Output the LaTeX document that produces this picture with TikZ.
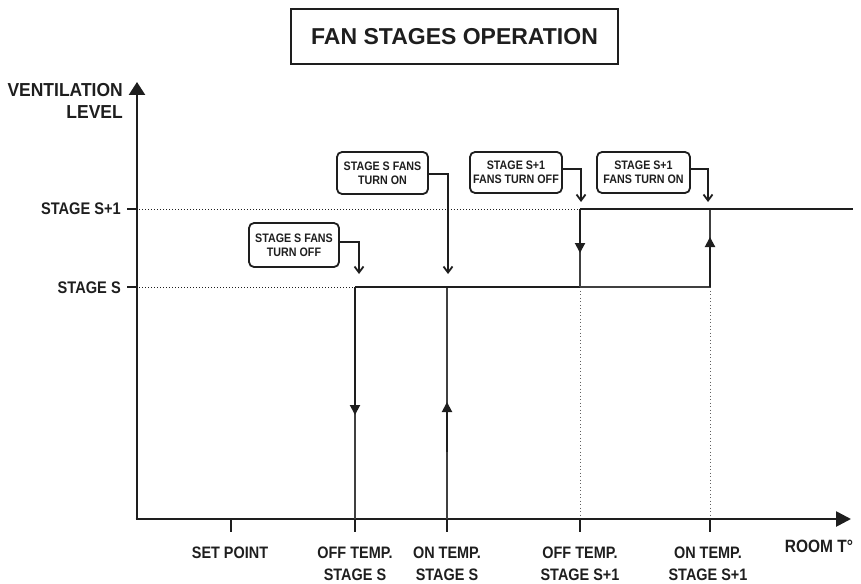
\documentclass[tikz,border=0pt]{standalone}
\usepackage{fontspec}
\setmainfont{Liberation Sans}
\newfontfamily\narrowfont[FakeStretch=0.87]{Liberation Sans}
\newfontfamily\semifont[FakeStretch=0.93]{Liberation Sans}
\usetikzlibrary{arrows.meta}
\definecolor{ink}{HTML}{1E1E1E}
\begin{document}
\begin{tikzpicture}[x=1pt,y=-1pt,
  axisline/.style={draw=ink,line width=2.6pt},
  tick/.style={draw=ink,line width=2.2pt},
  stepline/.style={draw=ink,line width=2pt},
  thinline/.style={draw=ink!85,line width=1.4pt},
  guide/.style={draw=ink,line width=0.9pt,dash pattern=on 1pt off 2pt},
  guidev/.style={draw=ink!70,line width=0.9pt,dash pattern=on 1pt off 2.5pt},
  flowarrow/.style={draw=ink,line width=2pt,-{Triangle[length=10pt,width=10pt]}},
  callout/.style={draw=ink,text=ink,rounded corners=5pt,line width=1.8pt,align=center,
    inner sep=0pt,font=\narrowfont\bfseries\fontsize{12.3}{14}\selectfont},
  callarrow/.style={draw=ink,line width=1.8pt,-{Straight Barb[length=6pt,width=9pt]}},
  axislabel/.style={text=ink,inner sep=0pt,font=\semifont\bfseries\fontsize{18.8}{20}\selectfont},
  levellabel/.style={text=ink,inner sep=0pt,anchor=base east,font=\narrowfont\bfseries\fontsize{16.8}{18}\selectfont},
  templabel/.style={text=ink,inner sep=0pt,anchor=base,font=\narrowfont\bfseries\fontsize{16.6}{18}\selectfont}]
\useasboundingbox (0,0) rectangle (861,583);

% title
\node[draw=ink,text=ink,line width=1.5pt,minimum width=327pt,minimum height=55pt,
  font=\bfseries\fontsize{23}{26}\selectfont] (title) at (454.5,36.5) {FAN STAGES OPERATION};

% key points of the chart
\coordinate (O) at (137,519);
\coordinate (yTop) at (137,82);
\coordinate (xEnd) at (851,519);
\coordinate (lvS) at (137,287);
\coordinate (lvS1) at (137,209);
\coordinate (sp) at (231,519);
\coordinate (offS) at (355,519);
\coordinate (onS) at (447,519);
\coordinate (offS1) at (580,519);
\coordinate (onS1) at (710,519);
\coordinate (hEnd) at (853,209);

% guide lines
\draw[guide] ([xshift=2pt]lvS1) -- (offS1 |- lvS1);
\draw[guide] ([xshift=2pt]lvS) -- (offS |- lvS);
\draw[guidev] (offS1 |- lvS) -- (offS1);
\draw[guidev] (onS1 |- lvS) -- (onS1);

% axes
\draw[axisline,-{Triangle[length=13pt,width=16pt]}] (O) -- (yTop);
\draw[axisline,-{Triangle[length=15pt,width=15pt]}] ([xshift=-1.3pt]O) -- (xEnd);
\draw[tick] (lvS) -- ++(-10,0);
\draw[tick] (lvS1) -- ++(-10,0);
\foreach \p in {sp,offS,onS,offS1,onS1} \draw[tick] (\p) -- ++(0,13);

% stage S loop
\draw[thinline] (offS) -- (offS |- lvS);
\draw[thinline] (onS) -- (onS |- lvS);
\draw[stepline] (offS |- lvS) -- (offS1 |- lvS);
\draw[flowarrow] (offS |- lvS) -- (355,415);
\draw[flowarrow] (447,452) -- (447,402);

% stage S+1 loop
\draw[thinline] (offS1 |- lvS) -- (onS1 |- lvS) -- (onS1 |- lvS1);
\draw[thinline] (offS1 |- lvS) -- (offS1 |- lvS1);
\draw[stepline] (offS1 |- lvS1) -- (hEnd);
\draw[flowarrow] (offS1 |- lvS1) -- (580,253);
\draw[flowarrow] (onS1 |- lvS) -- (710,237);

% axis labels
\node[axislabel,anchor=base east] (vlab1) at (123,97) {VENTILATION};
\node[axislabel,anchor=base east] (vlab2) at (123,118) {LEVEL};
\node[levellabel] (labS1) at (121,214) {STAGE S+1};
\node[levellabel] (labS) at (121,293) {STAGE S};

\node[templabel] (tSp) at (230,558) {SET POINT};
\node[templabel] (tOffSa) at (355,558) {OFF TEMP.};
\node[templabel] (tOffSb) at (355,580) {STAGE S};
\node[templabel] (tOnSa) at (447,558) {ON TEMP.};
\node[templabel] (tOnSb) at (447,580) {STAGE S};
\node[templabel] (tOffS1a) at (580,558) {OFF TEMP.};
\node[templabel] (tOffS1b) at (580,580) {STAGE S+1};
\node[templabel] (tOnS1a) at (708,558) {ON TEMP.};
\node[templabel] (tOnS1b) at (708,580) {STAGE S+1};
\node[templabel,font=\narrowfont\bfseries\fontsize{17.8}{20}\selectfont] (tRoom) at (819,552) {ROOM T°};

% callouts
\node[callout,minimum width=90pt,minimum height=44pt] (c1) at (294,245) {STAGE S FANS\\TURN OFF};
\node[callout,minimum width=91pt,minimum height=42pt] (c2) at (382.5,173) {STAGE S FANS\\TURN ON};
\node[callout,minimum width=92pt,minimum height=41pt] (c3) at (516,172.5) {STAGE S+1\\FANS TURN OFF};
\node[callout,minimum width=93pt,minimum height=41pt] (c4) at (643.5,172.5) {STAGE S+1\\FANS TURN ON};

\coordinate (e1) at (359,274);
\coordinate (e2) at (448,274);
\coordinate (e3) at (581,202);
\coordinate (e4) at (708,202);
\draw[callarrow] ([yshift=3pt]c1.east) -| (e1);
\draw[callarrow] ([yshift=-1pt]c2.east) -| (e2);
\draw[callarrow] ([yshift=3.5pt]c3.east) -| (e3);
\draw[callarrow] ([yshift=3.5pt]c4.east) -| (e4);
\end{tikzpicture}
\end{document}
